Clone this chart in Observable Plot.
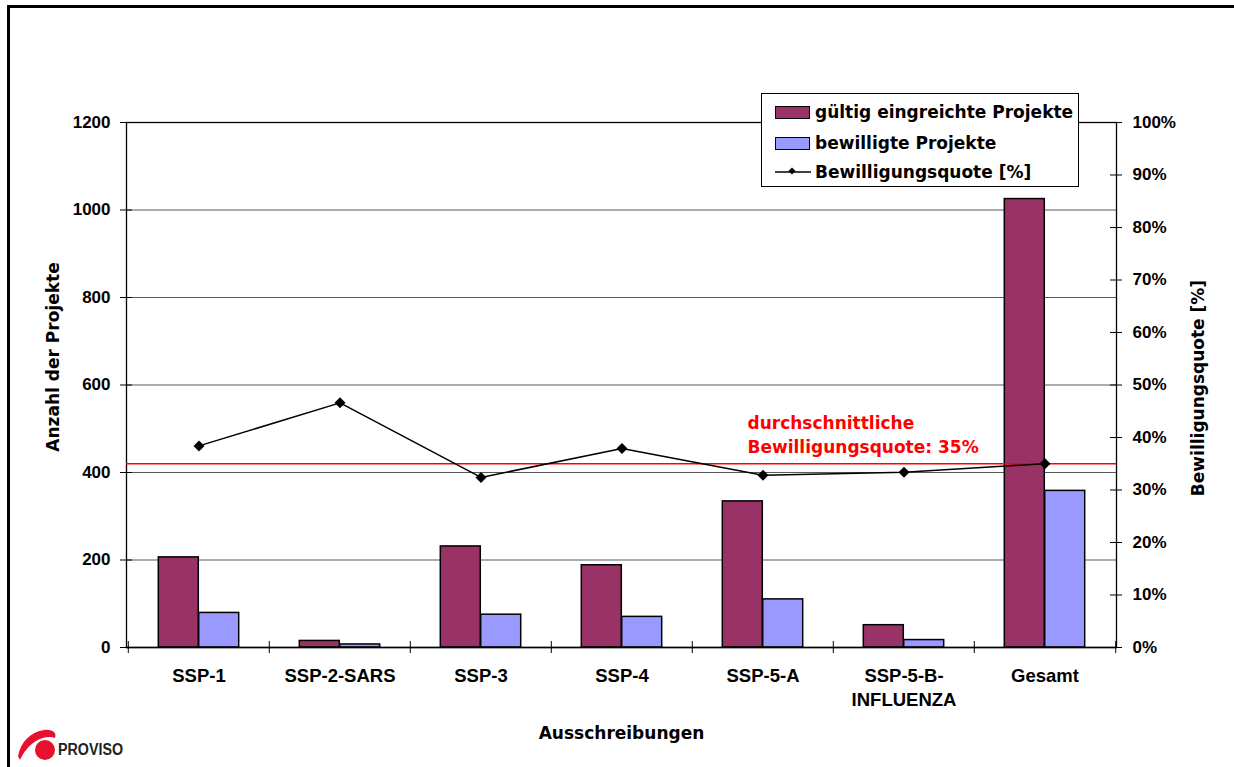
<!DOCTYPE html>
<html>
<head>
<meta charset="utf-8">
<script src="https://cdn.jsdelivr.net/npm/d3@7"></script>
<script src="https://cdn.jsdelivr.net/npm/@observablehq/plot@0.6"></script>
<style>
  html, body { margin: 0; padding: 0; background: #fff; overflow: hidden; }
  #wrap { position: relative; width: 1234px; height: 767px; overflow: hidden; }
  #border { position: absolute; left: 7px; top: 5px; width: 1400px; height: 900px; border-left: 3px solid #000; border-top: 3px solid #000; box-sizing: border-box; pointer-events: none; }
  #chart { position: absolute; left: 0; top: 0; }
  #legend { position: absolute; left: 761px; top: 93px; width: 318px; height: 94px; border: 1px solid #000; background: #fff; box-sizing: border-box;
            font-family: "DejaVu Sans", sans-serif; font-weight: bold; font-size: 17px; color: #000; }
  .row { position: absolute; left: 13px; height: 20px; display: flex; align-items: center; }
  .sw { width: 33px; height: 11px; border: 1.5px solid #000; margin-right: 5px; }
  .lt { white-space: nowrap; }
  #logo { position: absolute; left: 14px; top: 724px; }
</style>
</head>
<body>
<div id="wrap">
  <div id="chart"></div>
  <div id="legend"></div>
  <svg id="logo" width="120" height="42" viewBox="0 0 120 42">
    <path d="M4 32 C 7 17, 17 8, 30 6 C 39 5, 43 9, 41 14 C 36 12, 28 13, 22 17 C 14 22, 10 28, 6 36 Z" fill="#e8102e"/>
    <circle cx="31" cy="26" r="10" fill="#e8102e"/>
    <text x="44" y="31" font-family="'Liberation Sans Narrow', 'Liberation Sans', sans-serif" font-weight="bold" font-size="16" fill="#222" textLength="65" lengthAdjust="spacingAndGlyphs">PROVISO</text>
  </svg>
  <div id="border"></div>
</div>
<script>
// ---- data ----
const categories = ["SSP-1", "SSP-2-SARS", "SSP-3", "SSP-4", "SSP-5-A", "SSP-5-B-INFLUENZA", "Gesamt"];
const categoryLabels = ["SSP-1", "SSP-2-SARS", "SSP-3", "SSP-4", "SSP-5-A", "SSP-5-B-\nINFLUENZA", "Gesamt"];
const eingereicht = [206, 15, 231, 188, 334, 51, 1025];
const bewilligt = [79, 7, 75, 70, 110, 17, 358];
const quote = [38.4, 46.6, 32.4, 37.9, 32.8, 33.4, 35.0];
const durchschnitt = 35;
const leftTicks = [0, 200, 400, 600, 800, 1000, 1200];
const pctTicks = [0, 10, 20, 30, 40, 50, 60, 70, 80, 90, 100];
const seriesNames = ["gültig eingreichte Projekte", "bewilligte Projekte", "Bewilligungsquote [%]"];
const annotation = "durchschnittliche\nBewilligungsquote: 35%";
const xTitle = "Ausschreibungen";
const yTitleLeft = "Anzahl der Projekte";
const yTitleRight = "Bewilligungsquote [%]";

// ---- layout ----
const W = 1234, H = 767;
const mL = 126, mR = 118, mT = 122, mB = 120;
const plotW = W - mL - mR;
const bw = plotW / categories.length;
const barW = bw / 3.5;
const halfGap = barW * 0.75;
const pctScale = 12; // 100% ↔ 1200 on shared y
const colP = "#993366", colB = "#9999ff";

const rows = categories.map((c, i) => ({cat: c, e: eingereicht[i], b: bewilligt[i], q: quote[i]}));
const labelOf = new Map(categories.map((c, i) => [c, categoryLabels[i]]));
const tickFont = "'Liberation Sans', Arial, sans-serif";

const chart = Plot.plot({
  width: W, height: H,
  marginLeft: mL, marginRight: mR, marginTop: mT, marginBottom: mB,
  style: {fontFamily: "'DejaVu Sans', sans-serif", fontWeight: "bold", background: "transparent", overflow: "visible"},
  x: {type: "band", domain: categories, padding: 0, axis: null},
  y: {domain: [0, 1200], axis: null},
  marks: [
    Plot.gridY(leftTicks.slice(1), {stroke: "#000", strokeOpacity: 0.65, strokeWidth: 1}),
    Plot.barY(rows, {x: "cat", y: "e", fill: colP, stroke: "#000", strokeWidth: 1.5,
      insetLeft: halfGap, insetRight: bw - halfGap - barW}),
    Plot.barY(rows, {x: "cat", y: "b", fill: colB, stroke: "#000", strokeWidth: 1.5,
      insetLeft: halfGap + barW, insetRight: halfGap}),
    Plot.frame({stroke: "#000", strokeWidth: 1.3}),
    Plot.ruleY([0], {stroke: "#000", strokeWidth: 1.5}),
    // axis ticks crossing the axis lines
    Plot.ruleY(leftTicks, {y: d => d, insetLeft: -6, insetRight: plotW - 6, stroke: "#000"}),
    Plot.ruleY(pctTicks, {y: d => d * pctScale, insetLeft: plotW - 6, insetRight: -6, stroke: "#000"}),
    Plot.ruleX(categories, {x: d => d, dx: -bw / 2, y1: 0, y2: 0, insetTop: -6, insetBottom: -6, stroke: "#000"}),
    Plot.ruleX(categories.slice(-1), {x: d => d, dx: bw / 2, y1: 0, y2: 0, insetTop: -6, insetBottom: -6, stroke: "#000"}),
    // axis labels
    Plot.axisY({anchor: "left", ticks: leftTicks, tickSize: 0, tickPadding: 16, label: null,
      tickFormat: d => String(d),
      fontFamily: tickFont, fontSize: 17, fontWeight: "bold", fill: "#000"}),
    Plot.axisY({anchor: "right", ticks: pctTicks.map(d => d * pctScale), tickSize: 0, tickPadding: 16, label: null,
      tickFormat: d => Math.round(d / pctScale) + "%",
      fontFamily: tickFont, fontSize: 17, fontWeight: "bold", fill: "#000"}),
    Plot.axisX({anchor: "bottom", tickSize: 0, tickPadding: 17, label: null, tickFormat: d => labelOf.get(d),
      fontFamily: tickFont, fontSize: 18.5, fontWeight: "bold", lineHeight: 1.3, fill: "#000"}),
    // average line + annotation
    Plot.ruleY([durchschnitt * pctScale], {stroke: "#ff0000", strokeWidth: 1.5}),
    Plot.text([annotation], {x: () => categories[4], y: () => durchschnitt * pctScale, text: d => d,
      textAnchor: "start", lineAnchor: "bottom", dx: -15.5, dy: -11, fill: "#ff0000", fontSize: 17, lineHeight: 1.4}),
    // rate line
    Plot.line(rows, {x: "cat", y: d => d.q * pctScale, stroke: "#000", strokeWidth: 1.5}),
    Plot.dot(rows, {x: "cat", y: d => d.q * pctScale, symbol: "square", rotate: 45, r: 4.4, fill: "#000", stroke: null}),
    // titles
    Plot.text([yTitleLeft], {text: d => d, frameAnchor: "left", textAnchor: "middle", rotate: -90, dx: -73, dy: -28, fontSize: 17, fill: "#000"}),
    Plot.text([yTitleRight], {text: d => d, frameAnchor: "right", textAnchor: "middle", rotate: -90, dx: 82, dy: 3, fontSize: 17, fill: "#000"}),
    Plot.text([xTitle], {text: d => d, frameAnchor: "bottom", dy: 91, fontSize: 17, fill: "#000"})
  ]
});
document.getElementById("chart").appendChild(chart);

// ---- legend ----
const legend = document.getElementById("legend");
const rowTops = [8, 39, 68];
seriesNames.forEach((name, i) => {
  const row = document.createElement("div");
  row.className = "row";
  row.style.top = rowTops[i] + "px";
  let sw;
  if (i < 2) {
    sw = document.createElement("div");
    sw.className = "sw";
    sw.style.background = i === 0 ? colP : colB;
  } else {
    sw = document.createElementNS("http://www.w3.org/2000/svg", "svg");
    sw.setAttribute("width", 36); sw.setAttribute("height", 14);
    sw.style.marginRight = "4px";
    sw.innerHTML = '<line x1="0" y1="7" x2="36" y2="7" stroke="#000" stroke-width="1.5"/>' +
      '<rect x="14.5" y="3.5" width="5" height="5" transform="rotate(45 17 6)" fill="#000"/>';
  }
  const t = document.createElement("span");
  t.className = "lt";
  t.textContent = name;
  row.appendChild(sw); row.appendChild(t);
  legend.appendChild(row);
});
</script>
</body>
</html>
